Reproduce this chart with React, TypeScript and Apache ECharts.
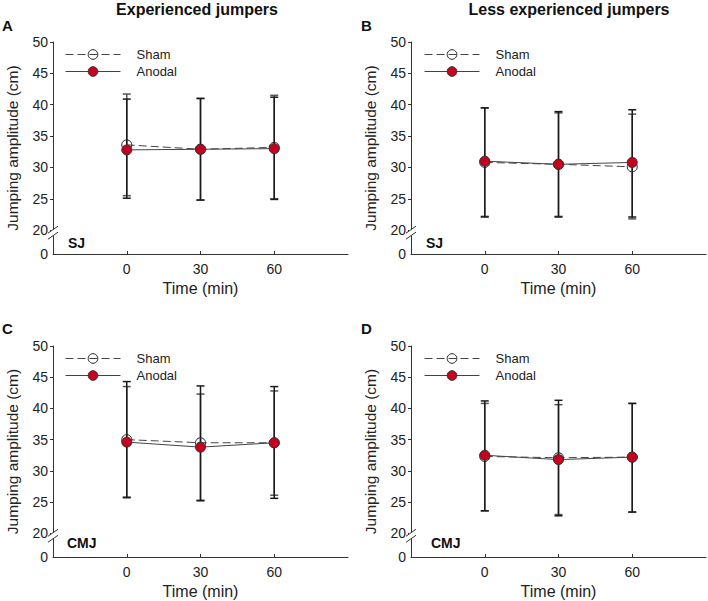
import React, { useEffect, useRef } from "react";
import * as echarts from "echarts";

// ---- Data ----
const timePoints = [0, 30, 60];
const xTickValues = [0, 30, 60];
const yTickValues = [20, 25, 30, 35, 40, 45, 50];
const Y_BREAK_ZERO = 16.2; // display position of the "0" label below the axis break
const seriesNames = ["Sham", "Anodal"];
const panelTitles = ["Experienced jumpers", "Less experienced jumpers"];
const panelLetters = ["A", "B", "C", "D"];
const panelTests = ["SJ", "SJ", "CMJ", "CMJ"];

// Panel A: experienced, SJ
const shamMeanA = [33.6, 32.9, 33.2];
const shamUpA = [41.7, 41.0, 41.5];
const shamLowA = [25.5, 24.8, 25.0];
const anodalMeanA = [32.8, 32.9, 33.0];
const anodalUpA = [40.9, 41.0, 41.2];
const anodalLowA = [25.1, 24.8, 24.9];

// Panel B: less experienced, SJ
const shamMeanB = [30.8, 30.5, 30.1];
const shamUpB = [39.5, 38.7, 38.5];
const shamLowB = [22.2, 22.2, 21.8];
const anodalMeanB = [31.0, 30.5, 30.8];
const anodalUpB = [39.5, 38.9, 39.2];
const anodalLowB = [22.1, 22.1, 22.1];

// Panel C: experienced, CMJ
const shamMeanC = [35.0, 34.5, 34.5];
const shamUpC = [43.5, 42.3, 42.8];
const shamLowC = [25.8, 25.3, 26.1];
const anodalMeanC = [34.6, 33.8, 34.5];
const anodalUpC = [44.3, 43.6, 43.5];
const anodalLowC = [25.7, 25.2, 25.6];

// Panel D: less experienced, CMJ
const shamMeanD = [32.3, 32.1, 32.2];
const shamUpD = [40.8, 40.6, 40.8];
const shamLowD = [23.6, 23.0, 23.4];
const anodalMeanD = [32.5, 31.8, 32.2];
const anodalUpD = [41.2, 41.3, 40.8];
const anodalLowD = [23.6, 22.8, 23.4];

const panels = [
  { sham: [shamMeanA, shamLowA, shamUpA], anodal: [anodalMeanA, anodalLowA, anodalUpA] },
  { sham: [shamMeanB, shamLowB, shamUpB], anodal: [anodalMeanB, anodalLowB, anodalUpB] },
  { sham: [shamMeanC, shamLowC, shamUpC], anodal: [anodalMeanC, anodalLowC, anodalUpC] },
  { sham: [shamMeanD, shamLowD, shamUpD], anodal: [anodalMeanD, anodalLowD, anodalUpD] },
];

// ---- Layout ----
const FONT = "'Liberation Sans', Arial, Helvetica, sans-serif";
const gridRects = [
  { left: 53, top: 42, width: 295, height: 212 },
  { left: 411, top: 42, width: 295, height: 212 },
  { left: 53, top: 346, width: 295, height: 211 },
  { left: 411, top: 346, width: 295, height: 211 },
];
const legendPos = [
  { left: 60, top: 43 },
  { left: 419, top: 43 },
  { left: 60, top: 347 },
  { left: 419, top: 347 },
];
const letterPos = [
  { x: 2, y: 24 },
  { x: 361, y: 24 },
  { x: 2, y: 327 },
  { x: 361, y: 327 },
];
const testPos = [
  { x: 68, y: 243 },
  { x: 426, y: 243 },
  { x: 67, y: 543 },
  { x: 431, y: 543 },
];

const AXIS_COLOR = "#333";
const TEXT_COLOR = "#222";
const RED = "#c8001e";

function errorBarRender(color: string) {
  return (params: any, api: any) => {
    const x = api.value(0);
    const lo = api.coord([x, api.value(1)]);
    const hi = api.coord([x, api.value(2)]);
    const hw = 4;
    const style = { stroke: color, lineWidth: 1.5 };
    return {
      type: "group",
      children: [
        { type: "line", shape: { x1: lo[0], y1: lo[1], x2: hi[0], y2: hi[1] }, style },
        { type: "line", shape: { x1: lo[0] - hw, y1: lo[1], x2: lo[0] + hw, y2: lo[1] }, style },
        { type: "line", shape: { x1: hi[0] - hw, y1: hi[1], x2: hi[0] + hw, y2: hi[1] }, style },
      ],
    };
  };
}

function breakRender(params: any, api: any) {
  const p = api.coord([api.value(0), api.value(1)]);
  const x = p[0];
  const yc1 = p[1] - 0.5;
  const yc2 = p[1] + 5.5;
  const style = { stroke: AXIS_COLOR, lineWidth: 1 };
  return {
    type: "group",
    children: [
      { type: "rect", shape: { x: x - 2, y: yc1, width: 4, height: yc2 - yc1 }, style: { fill: "#fff" } },
      { type: "line", shape: { x1: x - 5, y1: yc1 + 3.5, x2: x + 5, y2: yc1 - 3.5 }, style },
      { type: "line", shape: { x1: x - 5, y1: yc2 + 3.5, x2: x + 5, y2: yc2 - 3.5 }, style },
    ],
  };
}

function buildOption() {
  const grid: any[] = [];
  const xAxis: any[] = [];
  const yAxis: any[] = [];
  const series: any[] = [];
  const legend: any[] = [];
  const graphic: any[] = [];

  panels.forEach((panel, i) => {
    grid.push({ ...gridRects[i], containLabel: false });
    xAxis.push({
      gridIndex: i,
      type: "value",
      min: -30,
      max: 90,
      axisLine: { show: true, onZero: false, lineStyle: { color: AXIS_COLOR, width: 1 } },
      axisTick: { show: true, inside: true, length: 3, customValues: xTickValues, lineStyle: { color: AXIS_COLOR } },
      axisLabel: { customValues: xTickValues, fontSize: 14, color: TEXT_COLOR, margin: 8, fontFamily: FONT },
      splitLine: { show: false },
      name: "Time (min)",
      nameLocation: "middle",
      nameGap: 26,
      nameTextStyle: { fontSize: 16, color: TEXT_COLOR, fontFamily: FONT },
    });
    const yVals = [Y_BREAK_ZERO, ...yTickValues];
    yAxis.push({
      gridIndex: i,
      type: "value",
      min: Y_BREAK_ZERO,
      max: 50,
      axisLine: { show: true, onZero: false, lineStyle: { color: AXIS_COLOR, width: 1 } },
      axisTick: { show: true, length: 3, customValues: yTickValues, lineStyle: { color: AXIS_COLOR } },
      axisLabel: {
        customValues: yVals,
        formatter: (v: number) => (v < 19 ? "0" : String(v)),
        fontSize: 14,
        color: TEXT_COLOR,
        margin: 5,
        fontFamily: FONT,
      },
      splitLine: { show: false },
      name: "Jumping amplitude (cm)",
      nameLocation: "middle",
      nameGap: 33,
      nameTextStyle: { fontSize: 15.5, color: TEXT_COLOR, fontFamily: FONT },
    });

    const [sMean, sLow, sUp] = panel.sham;
    const [aMean, aLow, aUp] = panel.anodal;

    series.push({
      type: "custom",
      name: "shamErr" + i,
      xAxisIndex: i,
      yAxisIndex: i,
      renderItem: errorBarRender("#555"),
      data: timePoints.map((t, k) => [t, sLow[k], sUp[k]]),
      silent: true,
      z: 2,
    });
    series.push({
      type: "custom",
      name: "anodalErr" + i,
      xAxisIndex: i,
      yAxisIndex: i,
      renderItem: errorBarRender("#1a1a1a"),
      data: timePoints.map((t, k) => [t, aLow[k], aUp[k]]),
      silent: true,
      z: 3,
    });
    series.push({
      type: "line",
      name: seriesNames[0],
      xAxisIndex: i,
      yAxisIndex: i,
      data: timePoints.map((t, k) => [t, sMean[k]]),
      symbol: "circle",
      symbolSize: 10,
      itemStyle: { color: "transparent", borderColor: "#222", borderWidth: 1 },
      lineStyle: { color: "#444", width: 1, type: [8, 4] },
      z: 4,
    });
    series.push({
      type: "line",
      name: seriesNames[1],
      xAxisIndex: i,
      yAxisIndex: i,
      data: timePoints.map((t, k) => [t, aMean[k]]),
      symbol: "circle",
      symbolSize: 10,
      itemStyle: { color: RED, borderColor: "#333", borderWidth: 1 },
      lineStyle: { color: "#444", width: 1 },
      z: 5,
    });
    series.push({
      type: "custom",
      name: "break" + i,
      xAxisIndex: i,
      yAxisIndex: i,
      renderItem: breakRender,
      data: [[-30, 20]],
      silent: true,
      clip: false,
      z: 6,
    });

    legend.push({
      data: seriesNames,
      orient: "vertical",
      left: legendPos[i].left,
      top: legendPos[i].top,
      itemWidth: 55,
      itemHeight: 12,
      itemGap: 4,
      selectedMode: false,
      lineStyle: { width: 1 },
      itemStyle: { borderWidth: 1 },
      textStyle: { fontSize: 13, color: TEXT_COLOR, fontFamily: FONT, padding: [0, 0, 0, 11] },
    });

    graphic.push({
      type: "text",
      left: letterPos[i].x,
      top: letterPos[i].y - 6,
      style: { text: panelLetters[i], font: `bold 15px ${FONT}`, fill: "#111" },
    });
    graphic.push({
      type: "text",
      left: testPos[i].x,
      top: testPos[i].y - 7,
      style: { text: panelTests[i], font: `bold 14px ${FONT}`, fill: "#111" },
    });
  });

  graphic.push({
    type: "text",
    x: 197,
    y: 9,
    style: { text: panelTitles[0], font: `bold 16px ${FONT}`, fill: "#111", textAlign: "center", textVerticalAlign: "middle" },
  });
  graphic.push({
    type: "text",
    x: 569,
    y: 9,
    style: { text: panelTitles[1], font: `bold 16px ${FONT}`, fill: "#111", textAlign: "center", textVerticalAlign: "middle" },
  });

  return {
    animation: false,
    backgroundColor: "#fff",
    textStyle: { fontFamily: FONT },
    grid,
    xAxis,
    yAxis,
    legend,
    series,
    graphic,
  };
}

export default function App() {
  const ref = useRef<HTMLDivElement>(null);
  useEffect(() => {
    if (!ref.current) return;
    const chart = echarts.init(ref.current, undefined, { renderer: "svg" });
    chart.setOption(buildOption() as any);
    return () => chart.dispose();
  }, []);
  return (
    <div
      ref={ref}
      style={{ position: "absolute", left: 0, top: 0, width: 708, height: 601 }}
    />
  );
}
